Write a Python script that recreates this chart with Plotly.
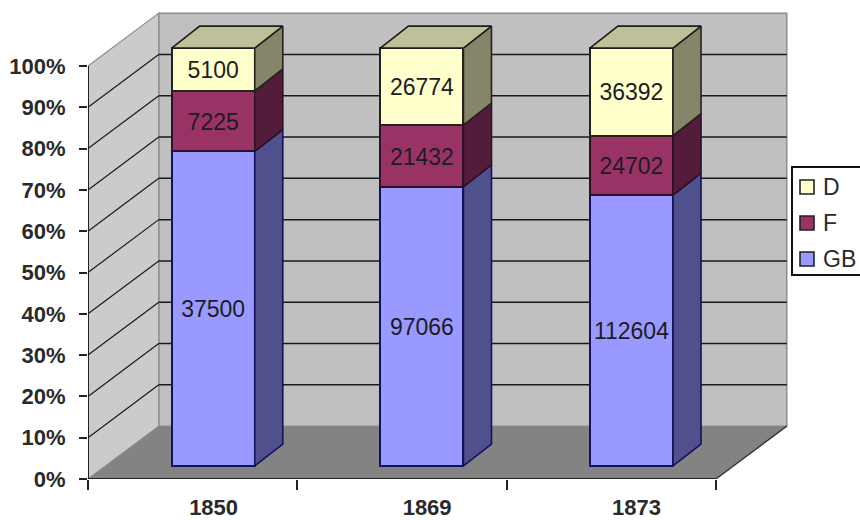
import plotly.graph_objects as go

# --- data ---
years = ["1850", "1869", "1873"]
gb = [37500, 97066, 112604]
f = [7225, 21432, 24702]
d = [5100, 26774, 36392]
pct_ticks = [0, 10, 20, 30, 40, 50, 60, 70, 80, 90, 100]

# --- pseudo-3D geometry, in axis units ---
BAR_SHIFT = [0.098, 1.095, 2.096]
LABEL_POS = [0.1, 1.12, 2.12]
BAR_W = 0.397
BAR_BASE = 3.15
BAR_SCALE = 1.012
BAR_DX, BAR_DY = 0.134, 5.3
WALL_DX, WALL_DY = 0.338, 12.8
X0, X1 = -0.5, 2.5
LABEL_DROP = 0.7

FONT = "Liberation Sans, Arial, sans-serif"
INK = "#1c1c24"
AXIS_INK = "#2a2a2a"
series = [
    ("GB", gb, "#9999ff", "#50508c", "#12125e"),
    ("F", f, "#993366", "#521c3a", "#2e0f26"),
    ("D", d, "#ffffcc", "#85856a", "#23231c"),
]
totals = [a + b + c for a, b, c in zip(gb, f, d)]

PLOT_L, PLOT_W, PLOT_BOTTOM, PLOT_H = 88, 702, 479, 471


def px(x):
    return (x - PLOT_L) / PLOT_W


def py(y):
    return (PLOT_BOTTOM - y) / PLOT_H


def poly(pts):
    return "M " + " L ".join(f"{x} {y}" for x, y in pts) + " Z"


shapes = []
# back wall, side wall, floor
shapes.append(dict(type="path", layer="below", xref="x", yref="y",
                   path=poly([(X0 + WALL_DX, WALL_DY), (X1 + WALL_DX, WALL_DY),
                              (X1 + WALL_DX, 100 + WALL_DY), (X0 + WALL_DX, 100 + WALL_DY)]),
                   fillcolor="#c0c0c0", line=dict(color="#8c8c8c", width=1.5)))
shapes.append(dict(type="path", layer="below", xref="x", yref="y",
                   path=poly([(X0, 0), (X0, 100), (X0 + WALL_DX, 100 + WALL_DY), (X0 + WALL_DX, WALL_DY)]),
                   fillcolor="#cbcbcb", line=dict(color="#8c8c8c", width=1.2)))
shapes.append(dict(type="path", layer="below", xref="x", yref="y",
                   path=poly([(X0, 0), (X1, 0), (X1 + WALL_DX, WALL_DY), (X0 + WALL_DX, WALL_DY)]),
                   fillcolor="#838383", line=dict(width=0)))
# grid
for t in pct_ticks[1:-1]:
    shapes.append(dict(type="line", layer="below", xref="x", yref="y",
                       x0=X0, y0=t, x1=X0 + WALL_DX, y1=t + WALL_DY, line=dict(color="#1a1a1a", width=1.2)))
    shapes.append(dict(type="line", layer="below", xref="x", yref="y",
                       x0=X0 + WALL_DX, y0=t + WALL_DY, x1=X1 + WALL_DX, y1=t + WALL_DY,
                       line=dict(color="#1a1a1a", width=1.5)))
# floor's right edge and the two axis lines
shapes.append(dict(type="line", layer="below", xref="x", yref="y", x0=X1, y0=0, x1=X1 + WALL_DX, y1=WALL_DY,
                   line=dict(color="#333333", width=1.3)))
shapes.append(dict(type="line", layer="above", xref="x", yref="y", x0=X0, y0=0, x1=X1, y1=0,
                   line=dict(color="#222222", width=2)))
shapes.append(dict(type="line", layer="above", xref="x", yref="y", x0=X0, y0=0, x1=X0, y1=100,
                   line=dict(color="#222222", width=2)))

fig = go.Figure()

stack = [BAR_BASE] * 3
side_traces = []
label_x, label_y, label_t = [], [], []
for name, vals, col, side_col, edge in series:
    heights = [v / t * 100 * BAR_SCALE for v, t in zip(vals, totals)]
    fig.add_trace(go.Bar(x=BAR_SHIFT, y=heights, base=stack, width=BAR_W, name=name, showlegend=False,
                         marker=dict(color=col, line=dict(color=edge, width=2))))
    for i in range(3):
        xr = BAR_SHIFT[i] + BAR_W / 2
        lo, hi = stack[i], stack[i] + heights[i]
        side_traces.append(go.Scatter(
            x=[xr, xr + BAR_DX, xr + BAR_DX, xr, xr],
            y=[lo, lo + BAR_DY, hi + BAR_DY, hi, lo],
            mode="lines", fill="toself", fillcolor=side_col,
            line=dict(color=edge, width=1.6), showlegend=False, hoverinfo="skip"))
        label_x.append(BAR_SHIFT[i])
        label_y.append(lo + heights[i] / 2 - LABEL_DROP)
        label_t.append(str(vals[i]))
    stack = [s + h for s, h in zip(stack, heights)]

# caps of the top segment
for i in range(3):
    xl = BAR_SHIFT[i] - BAR_W / 2
    xr = BAR_SHIFT[i] + BAR_W / 2
    top = stack[i]
    side_traces.append(go.Scatter(
        x=[xl, xr, xr + BAR_DX, xl + BAR_DX, xl],
        y=[top, top, top + BAR_DY, top + BAR_DY, top],
        mode="lines", fill="toself", fillcolor="#bfbf99",
        line=dict(color="#1c1c18", width=1.6), showlegend=False, hoverinfo="skip"))
fig.add_traces(side_traces)

fig.add_trace(go.Scatter(x=label_x, y=label_y, text=label_t, mode="text", showlegend=False,
                         textposition="middle center", hoverinfo="skip",
                         textfont=dict(family=FONT, size=23, color=INK, weight="normal")))

# legend key: the box runs off the picture's right edge in the reference
annotations = []
shapes.append(dict(type="rect", layer="above", xref="paper", yref="paper",
                   x0=px(792), x1=px(880), y0=py(275), y1=py(167),
                   fillcolor="white", line=dict(color="#111111", width=2)))
for (name, vals, col, side_col, edge), cy in zip(reversed(series), [187, 223, 259]):
    shapes.append(dict(type="rect", layer="above", xref="paper", yref="paper",
                       x0=px(800), x1=px(814), y0=py(cy + 7), y1=py(cy - 7),
                       fillcolor=col, line=dict(color="#222222", width=1.6)))
    annotations.append(dict(xref="paper", yref="paper", x=px(821), y=py(cy), text=name, showarrow=False,
                            xanchor="left", yanchor="middle", xshift=0,
                            font=dict(family=FONT, size=23, color=AXIS_INK, weight="normal")))

fig.update_layout(
    width=860, height=520, autosize=False,
    paper_bgcolor="white", plot_bgcolor="white",
    margin=dict(l=PLOT_L, r=860 - PLOT_L - PLOT_W, t=PLOT_BOTTOM - PLOT_H, b=520 - PLOT_BOTTOM, autoexpand=False),
    barmode="overlay", bargap=0, showlegend=False,
    shapes=shapes, annotations=annotations,
    font=dict(family=FONT, size=22, color=AXIS_INK, weight="bold"),
    xaxis=dict(range=[X0, X0 + PLOT_W / 209.33], showgrid=False, zeroline=False, showline=False,
               tickmode="array", tickvals=LABEL_POS, ticktext=years, ticks="",
               ticklabelstandoff=13,
               minor=dict(tickmode="array", tickvals=[-0.5, 0.5, 1.5, 2.5], ticks="outside",
                          ticklen=10, tickwidth=2, tickcolor="#222222")),
    yaxis=dict(range=[0, PLOT_H / 4.13], showgrid=False, zeroline=False, showline=False,
               tickmode="array", tickvals=pct_ticks, ticktext=[f"{t}%" for t in pct_ticks],
               ticks="outside", ticklen=8, tickwidth=2, tickcolor="#222222", ticklabelstandoff=9),
)

fig.write_html("out.html", config={"displayModeBar": False},
               post_script="document.body.style.margin='0';document.body.style.overflow='hidden';")
